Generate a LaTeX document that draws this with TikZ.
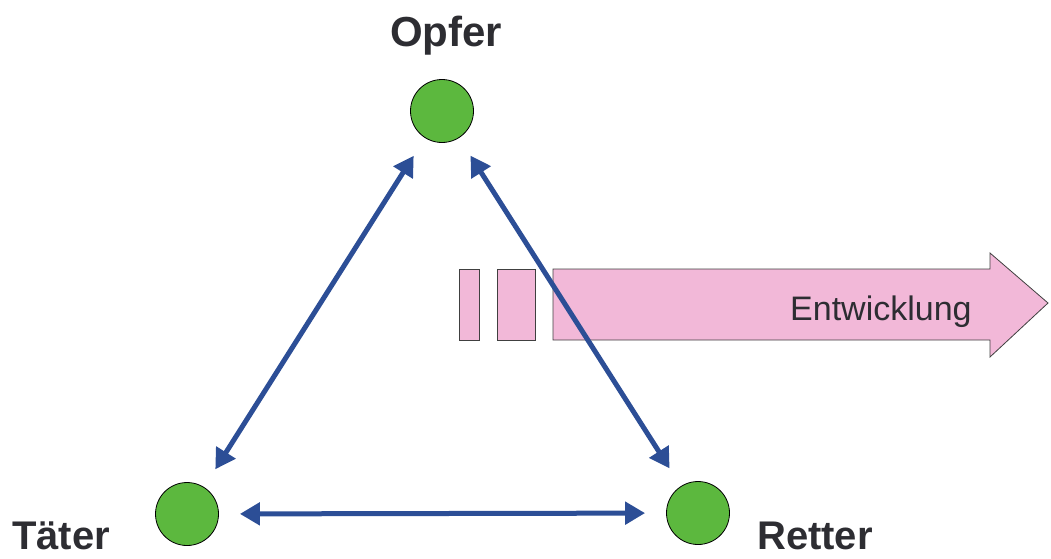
\documentclass[tikz,border=0pt]{standalone}
\usepackage{fontspec}
\setmainfont{Liberation Sans}
\usetikzlibrary{arrows.meta}
\definecolor{circgreen}{RGB}{92,184,62}
\definecolor{arrblue}{RGB}{44,78,150}
\definecolor{pinkfill}{RGB}{242,184,216}
\definecolor{textgray}{RGB}{45,45,50}
\begin{document}
\begin{tikzpicture}[x=1pt,y=-1pt,
  role/.style={circle,draw=black,line width=0.8pt,fill=circgreen,minimum size=63pt,inner sep=0pt},
  rolelabel/.style={anchor=base west,inner sep=0pt,text=textgray,font=\fontsize{40}{40}\selectfont\bfseries},
  link/.style={draw=arrblue,line width=5pt,{Triangle[length=20pt,width=22pt]}-{Triangle[length=20pt,width=22pt]},shorten <=21pt,shorten >=21pt},
  pinkbox/.style={draw=black!75,line width=0.8pt,fill=pinkfill}]
\useasboundingbox (0,0) rectangle (1051,558);
% pink development arrow
\draw[pinkbox] (459,269) rectangle (479,340);
\draw[pinkbox] (497,269) rectangle (535,340);
\draw[pinkbox] (553,269) -- (990,269) -- (990,253) -- (1048,303) -- (990,357) -- (990,340) -- (553,340) -- cycle;
\node[anchor=base west,inner sep=0pt,text=textgray,font=\fontsize{34}{34}\selectfont] (entw) at (790,320) {Entwicklung};
% roles
\node[role] (opfer) at (442,111) {};
\node[role] (taeter) at (187,514) {};
\node[role] (retter) at (698,513) {};
\node[rolelabel,font=\fontsize{42}{42}\selectfont\bfseries] (lopfer) at (390,46) {Opfer};
\node[rolelabel] (ltaeter) at (12,549) {Täter};
\node[rolelabel] (lretter) at (757,549) {Retter};
% links
\draw[link] (opfer) -- (taeter);
\draw[link] (opfer) -- (retter);
\draw[link] (taeter) -- (retter);
\end{tikzpicture}
\end{document}
